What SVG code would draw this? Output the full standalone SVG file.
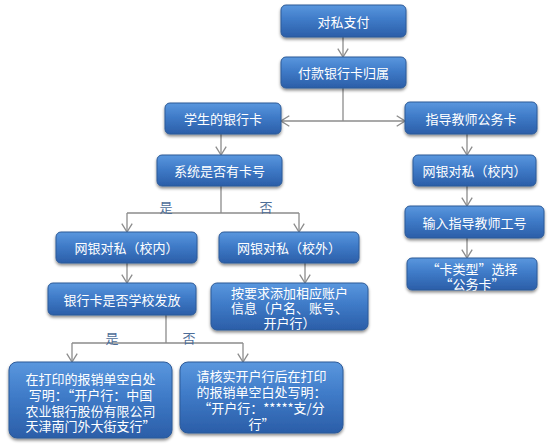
<svg xmlns="http://www.w3.org/2000/svg" width="554" height="447" viewBox="0 0 554 447">
<defs>
<linearGradient id="g" x1="0" y1="0" x2="0" y2="1">
<stop offset="0" stop-color="#5a97de"/>
<stop offset="0.45" stop-color="#3f7bc8"/>
<stop offset="1" stop-color="#2b5ea8"/>
</linearGradient>
<filter id="sh" x="-10%" y="-20%" width="120%" height="150%">
<feDropShadow dx="0" dy="2" stdDeviation="1.6" flood-color="#000" flood-opacity="0.45"/>
</filter>
<marker id="ah" viewBox="0 0 10 12" refX="9.3" refY="6" markerWidth="10" markerHeight="12" orient="auto" markerUnits="userSpaceOnUse">
<path d="M1,0.8 L9.3,6 L1,11.2" fill="none" stroke="#8c8c8c" stroke-width="1.3"/>
</marker>
</defs>
<style>
.b{fill:url(#g);stroke:#2d5a98;stroke-width:1;filter:url(#sh)}
.t{fill:#fff;font-family:"Noto Sans CJK SC","Liberation Sans",sans-serif;font-size:13px;text-anchor:middle;dominant-baseline:central}
.c{fill:none;stroke:#8c8c8c;stroke-width:1.3}
.a{marker-end:url(#ah)}
.l{fill:#4d6d98;font-family:"Noto Sans CJK SC","Liberation Sans",sans-serif;font-size:13px;text-anchor:middle;dominant-baseline:central}
</style>
<rect width="554" height="447" fill="#fff"/>
<g id="connectors">
<path class="c a" d="M343,37 V57"/>
<path class="c" d="M343,88 V121"/>
<path class="c a" d="M343,121 H281"/>
<path class="c a" d="M343,121 H405"/>
<path class="c a" d="M221,134 V155"/>
<path class="c" d="M221,186 V213 M127,213 H299"/>
<path class="c a" d="M127,213 V232"/>
<path class="c a" d="M299,213 V232"/>
<path class="c a" d="M127,263 V283"/>
<path class="c a" d="M305,263 V283"/>
<path class="c" d="M166,315 V343 M72,343 H243"/>
<path class="c a" d="M72,343 V362"/>
<path class="c a" d="M243,343 V362"/>
<path class="c a" d="M467,134 V155"/>
<path class="c a" d="M467,186 V206"/>
<path class="c a" d="M467,238 V258"/>
<text class="l" x="166" y="206">是</text>
<text class="l" x="266" y="206">否</text>
<text class="l" x="112" y="337">是</text>
<text class="l" x="189" y="337">否</text>
</g>
<g id="n1"><rect class="b" x="281" y="5" width="125" height="32" rx="5"/><text class="t" x="343.5" y="21">对私支付</text></g>
<g id="n2"><rect class="b" x="281" y="57" width="125" height="31" rx="5"/><text class="t" x="343.5" y="72.5">付款银行卡归属</text></g>
<g id="n3"><rect class="b" x="165" y="103" width="116" height="31" rx="5"/><text class="t" x="223" y="118.5">学生的银行卡</text></g>
<g id="n4"><rect class="b" x="405" y="102" width="132" height="32" rx="5"/><text class="t" x="471" y="118">指导教师公务卡</text></g>
<g id="n5"><rect class="b" x="157" y="155" width="125" height="31" rx="5"/><text class="t" x="219.5" y="170.5">系统是否有卡号</text></g>
<g id="n6"><rect class="b" x="56" y="232" width="141" height="31" rx="5"/><text class="t" x="126.5" y="247.5">网银对私（校内）</text></g>
<g id="n7"><rect class="b" x="219" y="232" width="140" height="31" rx="5"/><text class="t" x="289" y="247.5">网银对私（校外）</text></g>
<g id="n8"><rect class="b" x="48" y="283" width="148" height="32" rx="5"/><text class="t" x="122" y="299">银行卡是否学校发放</text></g>
<g id="n9"><rect class="b" x="211" y="283" width="157" height="47" rx="6"/>
<text class="t" x="289.5" y="292">按要求添加相应账户</text>
<text class="t" x="289.5" y="307">信息（户名、账号、</text>
<text class="t" x="289.5" y="322.5">开户行）</text></g>
<g id="n10"><rect class="b" x="9" y="362" width="163" height="76" rx="8"/>
<text class="t" x="90.5" y="378">在打印的报销单空白处</text>
<text class="t" x="90.5" y="394">写明：“开户行：中国</text>
<text class="t" x="90.5" y="410">农业银行股份有限公司</text>
<text class="t" x="90.5" y="425.5">天津南门外大街支行”</text></g>
<g id="n11"><rect class="b" x="180" y="362" width="163" height="71" rx="8"/>
<text class="t" x="261.5" y="375">请核实开户行后在打印</text>
<text class="t" x="261.5" y="391">的报销单空白处写明：</text>
<text class="t" x="261.5" y="407">“开户行：*****支/分</text>
<text class="t" x="261.5" y="423">行”</text></g>
<g id="n12"><rect class="b" x="413" y="155" width="123" height="31" rx="5"/><text class="t" x="474.5" y="170.5">网银对私（校内）</text></g>
<g id="n13"><rect class="b" x="405" y="206" width="139" height="32" rx="5"/><text class="t" x="474.5" y="222">输入指导教师工号</text></g>
<g id="n14"><rect class="b" x="407" y="258" width="130" height="32" rx="5"/>
<text class="t" x="472" y="268">“卡类型”选择</text>
<text class="t" x="472" y="283">“公务卡”</text></g>
</svg>
